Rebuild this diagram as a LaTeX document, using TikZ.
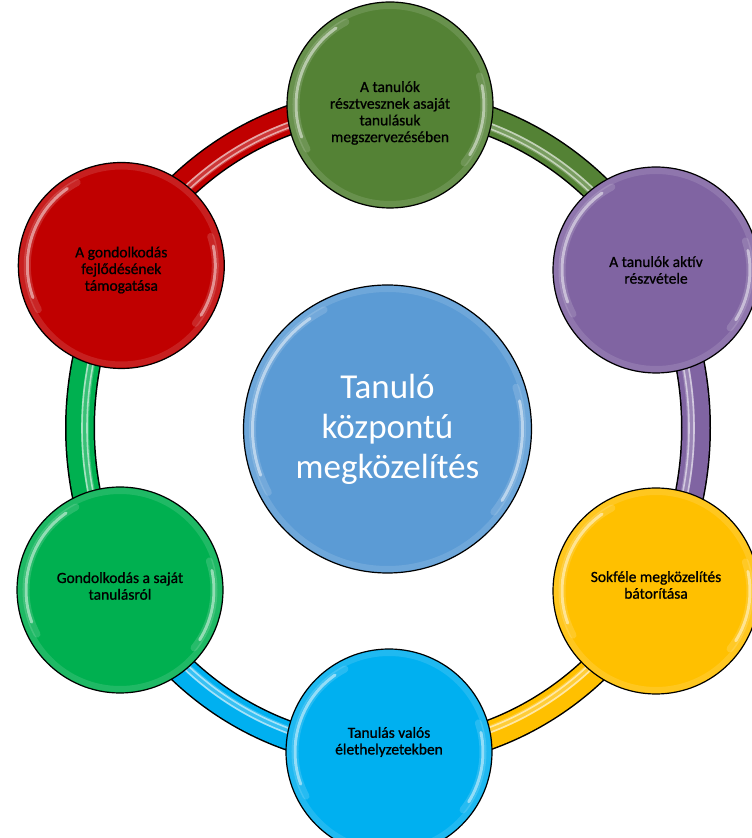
\documentclass[tikz,border=0pt]{standalone}
\usepackage{fontspec}
\setmainfont{Carlito}
\newfontfamily\bubfont{Carlito}[FakeBold=0.9]
\usetikzlibrary{calc}
\definecolor{cRed}{HTML}{C00000}
\definecolor{cOlive}{HTML}{548235}
\definecolor{cPurple}{HTML}{8064A2}
\definecolor{cYellow}{HTML}{FFC000}
\definecolor{cCyan}{HTML}{00B0F0}
\definecolor{cGreen}{HTML}{00B050}
\definecolor{cCenter}{HTML}{5B9BD5}
\tikzset{
  bub/.style={circle, draw=black, line width=1.2pt, fill=#1, minimum size=206pt,
    inner sep=0pt},
  lbl/.style={inner sep=0pt, align=center, text=black,
    font=\bubfont\fontsize{15.5}{16.7}\selectfont},
  hub/.style={circle, draw=black, line width=1.2pt, fill=#1, minimum size=288pt,
    inner sep=0pt, align=center, text=white,
    font=\fontsize{35}{40}\selectfont},
  tubeout/.style={line width=30pt, draw=black},
  tubein/.style={line width=27pt, draw=#1},
  tubeglow/.style={line width=8pt, draw=white, opacity=0.22},
  tubeline/.style={line width=1.6pt, draw=white, opacity=0.55},
  rim/.style={line width=6pt, draw=white, opacity=0.12},
  gleam/.style={line width=3pt, draw=white, opacity=0.5, line cap=round},
  gleamsoft/.style={line width=7pt, draw=white, opacity=0.15, line cap=round},
}
% segment: #1 start node, #2 start angle, #3 end angle, #4 colour
\newcommand{\ringseg}[4]{%
  \draw[tubeout] (#1.center) arc[start angle=#2, end angle=#3, x radius=308, y radius=325];
  \draw[tubein=#4] (#1.center) arc[start angle=#2, end angle=#3, x radius=308, y radius=325];
  \draw[tubeglow] ($(C)+(#2:303 and 320)$) arc[start angle=#2, end angle=#3, x radius=303, y radius=320];
  \draw[tubeline] ($(C)+(#2:301 and 318)$) arc[start angle=#2, end angle=#3, x radius=301, y radius=318];
  \draw[tubeline] ($(C)+(#2:306 and 323)$) arc[start angle=#2, end angle=#3, x radius=306, y radius=323];
}
\newcommand{\bubfx}[2]{% node, radius
  \draw[rim] (#1.center) circle[radius=#2-4];
  \draw[gleamsoft] ($(#1.center)+(118:#2-9)$) arc[start angle=118, end angle=208, radius=#2-9];
  \draw[gleamsoft] ($(#1.center)+(-38:#2-9)$) arc[start angle=-38, end angle=18, radius=#2-9];
  \draw[gleam] ($(#1.center)+(125:#2-9)$) arc[start angle=125, end angle=200, radius=#2-9];
  \draw[gleam] ($(#1.center)+(-32:#2-9)$) arc[start angle=-32, end angle=12, radius=#2-9];
}
\begin{document}
\begin{tikzpicture}[x=1pt,y=1pt]
\useasboundingbox (0,0) rectangle (752,838);
\coordinate (C) at (388,410);
% invisible anchors for ring segments
\node[inner sep=0] (aRed) at (C) [shift={(150:308 and 325)}] {};
\node[inner sep=0] (aTop) at (C) [shift={(90:308 and 325)}] {};
\node[inner sep=0] (aPur) at (C) [shift={(30:308 and 325)}] {};
\node[inner sep=0] (aYel) at (C) [shift={(-30:308 and 325)}] {};
\node[inner sep=0] (aBot) at (C) [shift={(-90:308 and 325)}] {};
\node[inner sep=0] (aGrn) at (C) [shift={(-150:308 and 325)}] {};
% ring
\ringseg{aRed}{150}{90}{cRed}
\ringseg{aTop}{90}{30}{cOlive}
\ringseg{aPur}{30}{-30}{cPurple}
\ringseg{aYel}{-30}{-90}{cYellow}
\ringseg{aBot}{270}{210}{cCyan}
\ringseg{aGrn}{210}{150}{cGreen}
% bubbles
\node[bub=cRed] (red) at (121.3,572.5) {};
\node[bub=cOlive] (top) at (390,733) {};
\node[bub=cPurple] (pur) at (656,568) {};
\node[bub=cYellow] (yel) at (656,247) {};
\node[bub=cCyan] (bot) at (389,86) {};
\node[bub=cGreen] (grn) at (120,248) {};
\node[hub=cCenter] (hub) at (387.5,409) {Tanuló\\központú\\megközelítés};
\foreach \n in {red,top,pur,yel,bot,grn}{\bubfx{\n}{103}}
\bubfx{hub}{144}
% labels
\node[lbl] (tRed) at ([yshift=-4.5pt]red.center) {A gondolkodás\\fejlődésének\\támogatása};
\node[lbl] (tTop) at ([yshift=-8pt]top.center) {A tanulók\\résztvesznek asaját\\tanulásuk\\megszervezésében};
\node[lbl] (tPur) at (pur.center) {A tanulók aktív\\részvétele};
\node[lbl] (tYel) at ([yshift=6pt]yel.center) {Sokféle megközelítés\\bátorítása};
\node[lbl] (tBot) at ([yshift=10pt]bot.center) {Tanulás valós\\élethelyzetekben};
\node[lbl] (tGrn) at ([yshift=4pt]grn.center) {Gondolkodás a saját\\tanulásról};
\end{tikzpicture}
\end{document}
